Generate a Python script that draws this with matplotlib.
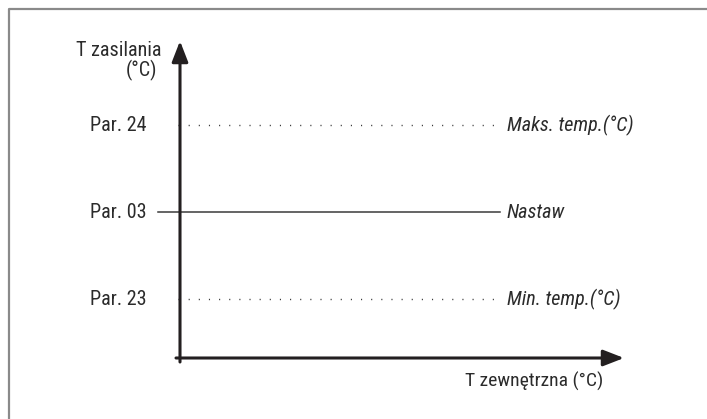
import matplotlib
matplotlib.use("Agg")
import matplotlib.pyplot as plt
from matplotlib import font_manager

# Data
level_labels = ["Par. 23", "Par. 03", "Par. 24"]
level_values = [1, 2, 3]
line_names = ["Min. temp.(°C)", "Nastaw", "Maks. temp.(°C)"]
line_styles = ["dotted", "solid", "dotted"]
y_title_lines = ["T zasilania", "(°C)"]
x_title = "T zewnętrzna (°C)"

names = {f.name for f in font_manager.fontManager.ttflist}
fam = "DejaVu Sans"
for cand in ["Roboto Condensed", "Archivo Narrow", "Liberation Sans Narrow", "Barlow Condensed"]:
    if cand in names:
        fam = cand
        break
plt.rcParams["font.family"] = [fam, "DejaVu Sans"]

FS = 14.5
FW = "normal"
TC = "#2b2b2b"
W, H = 707, 419
fig = plt.figure(figsize=(W / 100, H / 100), dpi=100)
ax = fig.add_axes([0, 0, 1, 1])
ax.set_xlim(0, W)
# level -> pixel: y = 386 - 87*level
ax.set_ylim(-33 / 87, 386 / 87)
ax.axis("off")

def ly(p):
    return (386 - p) / 87.0

# frame (top and left)
ax.plot([9, 9, W], [ly(H), ly(9), ly(9)], color="#8a8a8a", lw=1.6, solid_capstyle="butt")

axis_col = "#231f20"
x0 = 180
ybase = 358
# y axis arrow
ax.annotate("", xy=(x0, ly(41)), xytext=(x0, ly(362)),
            arrowprops=dict(arrowstyle="-|>,head_length=0.9,head_width=0.35", lw=2.2,
                            color=axis_col, shrinkA=0, shrinkB=0, mutation_scale=14))
# x axis arrow
ax.annotate("", xy=(624, ly(ybase)), xytext=(176, ly(ybase)),
            arrowprops=dict(arrowstyle="-|>,head_length=0.9,head_width=0.35", lw=2.2,
                            color=axis_col, shrinkA=0, shrinkB=0, mutation_scale=14))

for lab, val, nm, st in zip(level_labels, level_values, line_names, line_styles):
    if st == "solid":
        ax.plot([158, 500], [val, val], color="#3a3a3a", lw=1.1)
    else:
        ax.plot([178, 500], [val, val], color="#3a3a3a", lw=1.0,
                linestyle=(0, (0.8, 6.5)))
    ax.text(147, val, lab, ha="right", va="center", fontsize=FS, fontweight=FW, color=TC)
    ax.text(507, val, nm, ha="left", va="center", fontsize=FS, fontweight=FW,
            style="italic", color=TC)

ax.text(161, ly(50), y_title_lines[0], ha="right", va="center", fontsize=FS, fontweight=FW, color=TC)
ax.text(157, ly(70), y_title_lines[1], ha="right", va="center", fontsize=FS, fontweight=FW, color=TC)
ax.text(603, ly(381), x_title, ha="right", va="center", fontsize=14, fontweight=FW, color=TC)

fig.savefig("out.png", dpi=100)
